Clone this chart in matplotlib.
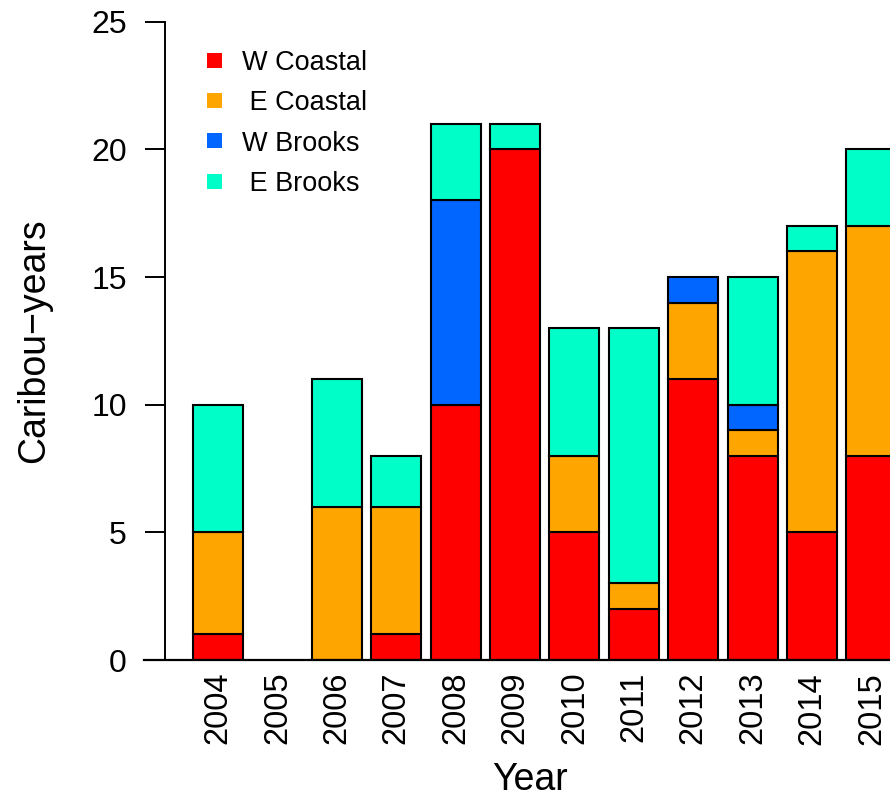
import numpy as np
import matplotlib
matplotlib.use('Agg')
import matplotlib.pyplot as plt
from matplotlib.patches import Rectangle

plt.rcParams['font.family'] = ['Liberation Sans', 'DejaVu Sans']

# data
years = ['2004', '2005', '2006', '2007', '2008', '2009',
         '2010', '2011', '2012', '2013', '2014', '2015']
w_coastal = [1, 0, 0, 1, 10, 20, 5, 2, 11, 8, 5, 8]
e_coastal = [4, 0, 6, 5, 0, 0, 3, 1, 3, 1, 11, 9]
w_brooks = [0, 0, 0, 0, 8, 0, 0, 0, 1, 1, 0, 0]
e_brooks = [5, 0, 5, 2, 3, 1, 5, 10, 0, 5, 1, 3]

series_names = ['W Coastal', ' E Coastal', 'W Brooks', ' E Brooks']
series_colors = ['#FF0000', '#FFA500', '#0066FF', '#00FFC8']

W, H = 890, 797
fig = plt.figure(figsize=(W / 100, H / 100), dpi=100)

# axes placed in pixel terms
ax_left, ax_right, ax_top, ax_bot = 165, 895, 21.7, 660
ax = fig.add_axes([ax_left / W, 1 - ax_bot / H, (ax_right - ax_left) / W, (ax_bot - ax_top) / H])

step = 59.4  # px between bar centres
first = 218
x = np.arange(len(years))
bottom = np.zeros(len(years))
for vals, col in zip([w_coastal, e_coastal, w_brooks, e_brooks], series_colors):
    vals = np.array(vals, dtype=float)
    mask = vals > 0
    ax.bar(x[mask], vals[mask], bottom=bottom[mask], width=50 / step,
           color=col, edgecolor='black', linewidth=1.5, zorder=2)
    bottom += vals

ax.set_xlim(-(first - ax_left) / step, (ax_right - first) / step)
ax.set_ylim(0, 25)

for s in ['top', 'right', 'bottom']:
    ax.spines[s].set_visible(False)
ax.spines['left'].set_linewidth(1.4)

# baseline sticking out to the left of the y axis
ax.plot([-(first - 144) / step, (ax_right - first) / step], [0, 0],
        color='black', lw=1.6, clip_on=False, zorder=3)

ax.set_yticks([0, 5, 10, 15, 20, 25])
ax.tick_params(axis='y', length=14.4, width=1.4, pad=13, labelsize=23)
ax.set_xticks(x)
ax.set_xticklabels(years, rotation=90)
ax.tick_params(axis='x', length=0, pad=8.5, labelsize=23.5)

fig.text(34 / W, 1 - 341 / H, 'Caribou\u2212years', rotation=90,
         ha='center', va='center', fontsize=27)
fig.text(530 / W, 1 - 790 / H, 'Year', ha='center', va='baseline', fontsize=27)

# legend, drawn by hand
row_y = [60, 100.3, 140.6, 181]
for name, col, yy in zip(series_names, series_colors, row_y):
    fig.patches.append(Rectangle((207 / W, 1 - (yy + 7.5) / H), 15 / W, 15 / H,
                                 transform=fig.transFigure, facecolor=col,
                                 edgecolor='none'))
    fig.text(242 / W, 1 - yy / H, name, ha='left', va='center_baseline', fontsize=19.5)

fig.savefig('out.png', dpi=100)
